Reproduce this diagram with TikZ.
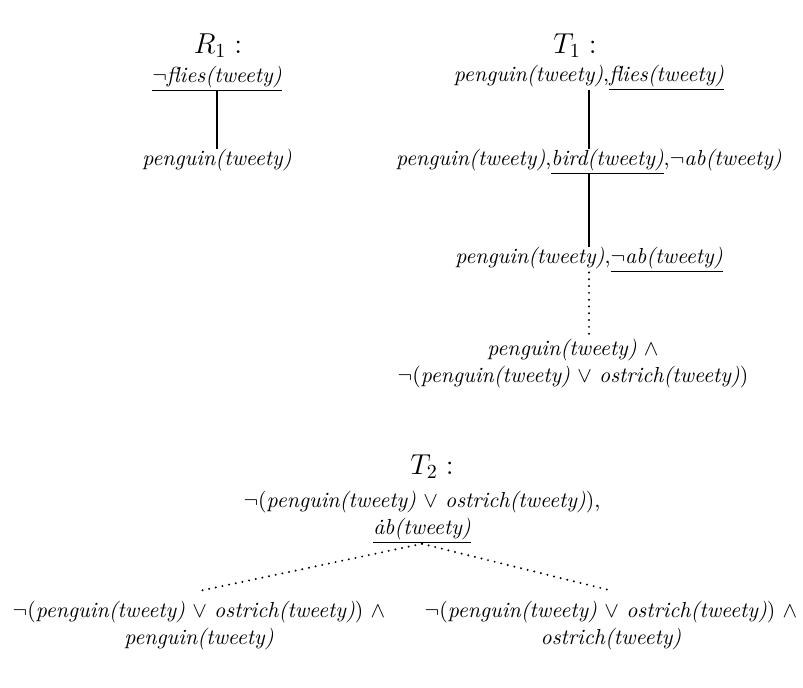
\documentclass[tikz,border=0pt]{standalone}
\begin{document}
\newcommand\pr[1]{\textit{#1}}
\begin{tikzpicture}[x=0.5pt,y=-0.5pt,
  lbl/.style={font=\fontsize{14.4}{17}\selectfont, inner sep=0pt, anchor=base},
  fml/.style={font=\fontsize{10.9}{13.5}\selectfont, inner sep=0pt, outer sep=0pt, anchor=base},
  ml/.style={fml, align=center},
  solidedge/.style={line width=0.6pt},
  dotedge/.style={line width=1.1pt, dash pattern=on 0pt off 3.4pt, line cap=round}]
\useasboundingbox (0,0) rectangle (803,687);
% R1
\node[lbl] (rl) at (218,53) {$R_1:$};
\node[fml] (ra) at (217,82) {\underline{$\neg$\pr{flies(tweety)}}};
\node[fml] (rb) at (217,165) {\pr{penguin(tweety)}};
\draw[solidedge] (ra.south) -- (rb.north);
% T1
\node[lbl] (tl) at (575,53) {$T_1:$};
\node[fml] (t1) at (589,81) {\pr{penguin(tweety)},\underline{\pr{flies(tweety)}}};
\node[fml] (t2) at (589,165) {\pr{penguin(tweety)},\underline{\pr{bird(tweety)}},$\neg$\pr{ab(tweety)}};
\node[fml] (t3) at (589,263) {\pr{penguin(tweety)},\underline{$\neg$\pr{ab(tweety)}}};
\node[ml, anchor=north] (t4) at (573,339) {\pr{penguin(tweety)} $\wedge$\\ $\neg$(\pr{penguin(tweety)} $\vee$ \pr{ostrich(tweety)})};
\draw[solidedge] (t1.south) -- (t2.north);
\draw[solidedge] (t2.south) -- (t3.north);
\draw[dotedge] (t3.south) -- (t4.north -| t3.south);
% T2
\node[lbl] (ul) at (432,474) {$T_2:$};
\node[ml, anchor=north] (u1) at (422,491) {$\neg$(\pr{penguin(tweety)} $\vee$ \pr{ostrich(tweety)}),\\ \underline{\pr{\.ab(tweety)}}};
\node[ml, anchor=north] (u2) at (199,601) {$\neg$(\pr{penguin(tweety)} $\vee$ \pr{ostrich(tweety)}) $\wedge$\\ \pr{penguin(tweety)}};
\node[ml, anchor=north] (u3) at (611,601) {$\neg$(\pr{penguin(tweety)} $\vee$ \pr{ostrich(tweety)}) $\wedge$\\ \pr{ostrich(tweety)}};
\draw[dotedge] (u1.south) -- ([yshift=5pt]u2.north);
\draw[dotedge] (u1.south) -- ([xshift=1pt,yshift=5pt]u3.north);
\end{tikzpicture}
\end{document}
